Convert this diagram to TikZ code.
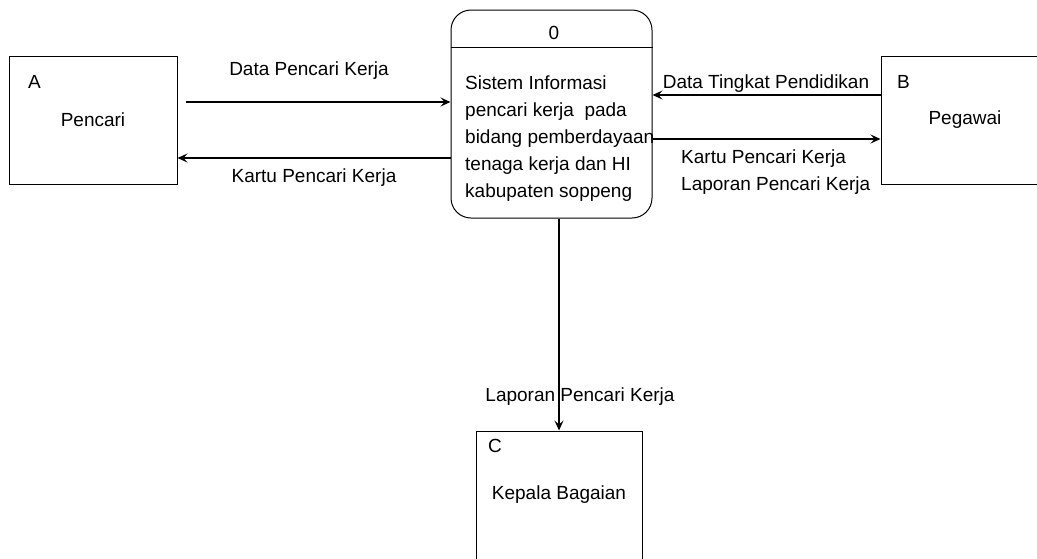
\documentclass[tikz,border=0pt]{standalone}
\usepackage{fontspec}
\setmainfont{Liberation Sans}
\usetikzlibrary{
arrows.meta,
positioning
}

\begin{document}
\begin{tikzpicture}[
x=1pt,y=-1pt,
font=\fontsize{19}{27}\selectfont,
entity/.style={
draw,
line width=1pt,
minimum width=168pt,
minimum height=128pt,
inner sep=0pt
},
proses/.style={
draw,
line width=1pt,
rounded corners=20pt,
minimum width=201pt,
minimum height=208pt
},
flowtext/.style={anchor=base,inner sep=0pt},
arrow/.style={-{Stealth[length=10pt,width=9pt,inset=4pt]},line width=1.3pt}
]
\useasboundingbox (0,0) rectangle (1037,558);

\node[entity] (pencari) at (93,120) {Pencari};
\node[entity] (pegawai) at (965,120) {Pegawai};
\node[entity,minimum width=166pt] (kepala) at (559,495) {Kepala Bagaian};
\node[proses] (sistem) at (551.5,114) {};

\node[flowtext,anchor=base west] (kodea) at (28,88) {A};
\node[flowtext,anchor=base west] (kodeb) at (897,88) {B};
\node[flowtext,anchor=base west] (kodec) at (488,452) {C};
\node[flowtext] (kodenol) at (554,39) {0};

\draw[line width=1pt] (sistem.west |- kodenol.base) ++(0,8) coordinate (garisa)
  -- (garisa -| sistem.east);
\node[anchor=north west,align=left,inner sep=0pt] (sistemteks) at (465,76)
  {Sistem Informasi\\pencari kerja~ pada\\bidang pemberdayaan\\tenaga kerja dan HI\\kabupaten soppeng};

\coordinate (datamasuk) at (186,102);
\coordinate (kartukeluar) at (sistem.west |- 0,158);
\coordinate (tingkatmasuk) at (pegawai.west |- 0,95);
\coordinate (laporankeluar) at (sistem.east |- 0,139);

\draw[arrow] (datamasuk) -- (sistem.west |- datamasuk);
\draw[arrow] (kartukeluar) -- (pencari.east |- kartukeluar);
\draw[arrow] (tingkatmasuk) -- (sistem.east |- tingkatmasuk);
\draw[arrow] (laporankeluar) -- (pegawai.west |- laporankeluar);
\draw[arrow] (kepala.north |- sistem.south) -- (kepala.north);

\node[flowtext] (datapencari) at (309,75) {Data Pencari Kerja};
\node[flowtext] (kartupencari) at (314,182) {Kartu Pencari Kerja};
\node[flowtext] (datatingkat) at (766,88) {Data Tingkat Pendidikan};
\node[flowtext,anchor=base west] (kartupegawai) at (681,163) {Kartu Pencari Kerja};
\node[flowtext,anchor=base west] (laporanpegawai) at (681,190) {Laporan Pencari Kerja};
\node[flowtext] (laporankepala) at (580,401) {Laporan Pencari Kerja};

\end{tikzpicture}
\end{document}
